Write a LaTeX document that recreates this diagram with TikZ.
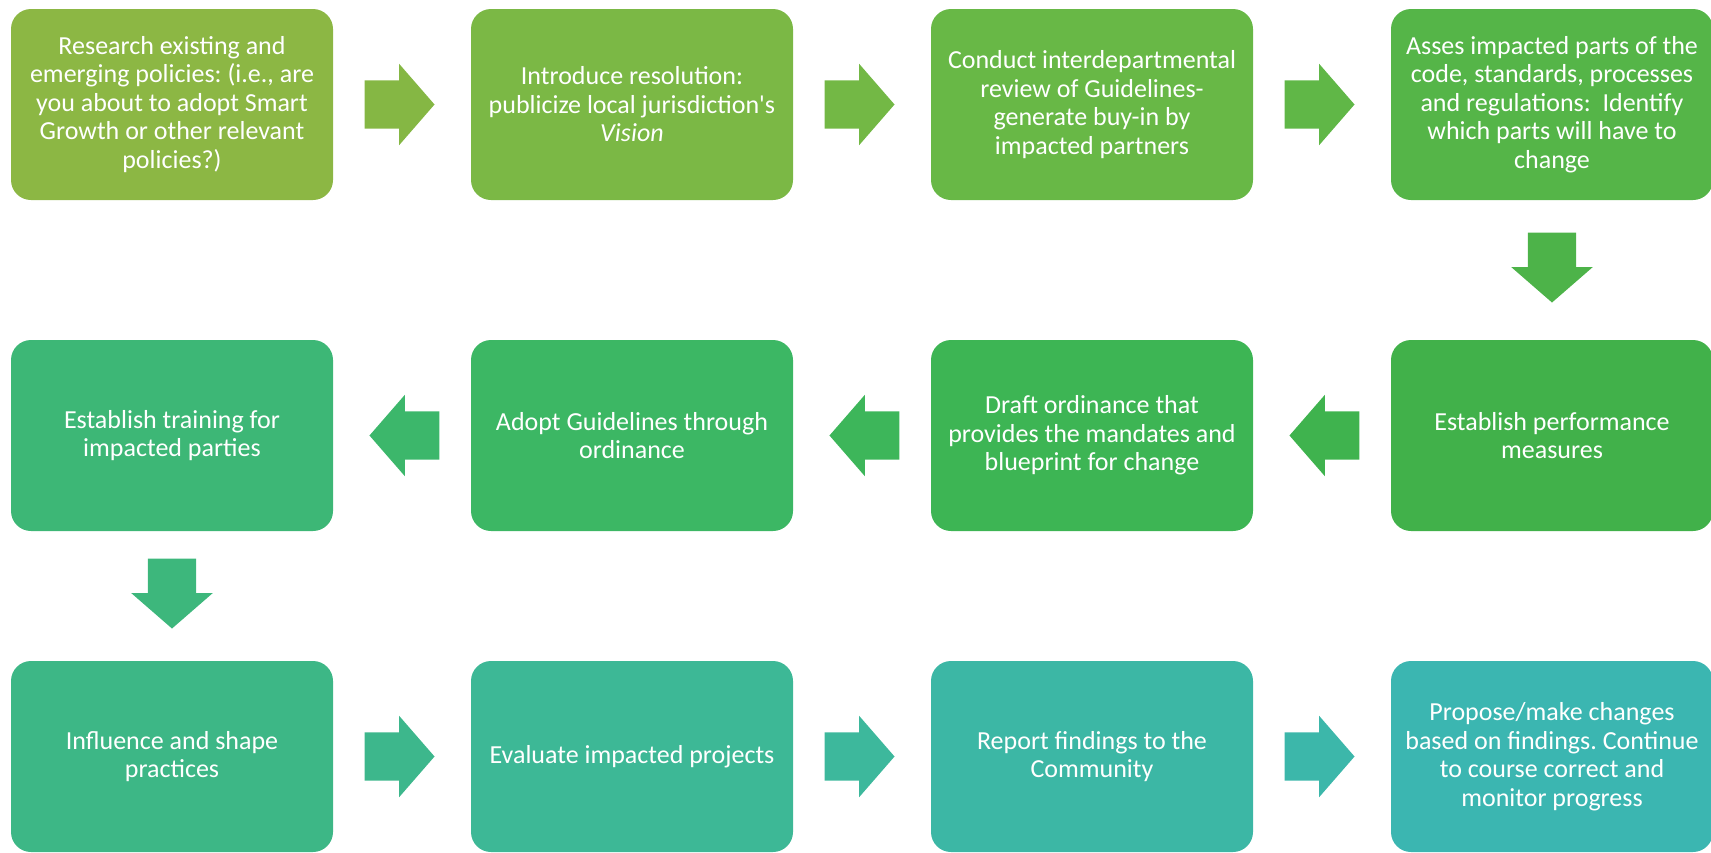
\documentclass[tikz,border=0pt]{standalone}
\usepackage{fontspec}
\setmainfont{Carlito}
\usetikzlibrary{positioning, shapes.arrows}
\frenchspacing

\definecolor{c_1}{HTML}{8CB744}
\definecolor{c_2}{HTML}{7BB845}
\definecolor{c_3}{HTML}{68B846}
\definecolor{c_4}{HTML}{55B548}
\definecolor{c_5}{HTML}{41B14A}
\definecolor{c_6}{HTML}{3DB554}
\definecolor{c_7}{HTML}{3CB764}
\definecolor{c_8}{HTML}{3DB776}
\definecolor{c_9}{HTML}{3DB786}
\definecolor{c_10}{HTML}{3DB896}
\definecolor{c_11}{HTML}{3CB7A5}
\definecolor{c_12}{HTML}{3BB6B1}

\tikzset{
  box/.style={rectangle, rounded corners=20pt, minimum width=322pt,
    minimum height=191pt, inner sep=0pt, text=white, align=center,
    font=\fontsize{26}{28.5}\selectfont},
  blockarrow/.style={single arrow, minimum height=70pt, inner xsep=0pt,
    inner ysep=24pt, single arrow head extend=16.5pt,
    single arrow tip angle=98, xshift=-13pt}
}

\begin{document}
\begin{tikzpicture}[x=1pt, y=-1pt, node distance=460pt, on grid]
  \useasboundingbox (0,0) rectangle (1711,852);

  % first row, left to right
  \node[box, fill=c_1] (s_1) at (172,104.5) {Research existing and\\emerging policies: (i.e., are\\you about to adopt Smart\\Growth or other relevant\\policies?)};
  \node[box, fill=c_2] (s_2) [right=of s_1] {Introduce resolution:\\publicize local jurisdiction\textquotesingle s\\\textit{Vision}};
  \node[box, fill=c_3] (s_3) [right=of s_2] {Conduct interdepartmental\\review of Guidelines-\\generate buy-in by\\impacted partners};
  \node[box, fill=c_4] (s_4) [right=of s_3] {Asses impacted parts of the\\code, standards, processes\\and regulations:~ Identify\\which parts will have to\\change};

  % second row, right to left
  \node[box, fill=c_5] (s_5) [below=331pt of s_4] {Establish performance\\measures};
  \node[box, fill=c_6] (s_6) [left=of s_5] {Draft ordinance that\\provides the mandates and\\blueprint for change};
  \node[box, fill=c_7] (s_7) [left=of s_6] {Adopt Guidelines through\\ordinance};
  \node[box, fill=c_8] (s_8) [left=of s_7] {Establish training for\\impacted parties};

  % third row, left to right
  \node[box, fill=c_9] (s_9) [below=321pt of s_8] {Influence and shape\\practices};
  \node[box, fill=c_10] (s_10) [right=of s_9] {Evaluate impacted projects};
  \node[box, fill=c_11] (s_11) [right=of s_10] {Report findings to the\\Community};
  \node[box, fill=c_12] (s_12) [right=of s_11] {Propose/make changes\\based on findings. Continue\\to course correct and\\monitor progress};

  % block arrows between the steps
  \path (s_1) -- node[blockarrow, fill=c_1!60!c_2] {} (s_2);
  \path (s_2) -- node[blockarrow, fill=c_2!60!c_3] {} (s_3);
  \path (s_3) -- node[blockarrow, fill=c_3!60!c_4] {} (s_4);
  \path (s_4) -- node[rotate=-90, blockarrow, fill=c_4!60!c_5] {} (s_5);
  \path (s_5) -- node[rotate=180, blockarrow, fill=c_5!60!c_6] {} (s_6);
  \path (s_6) -- node[rotate=180, blockarrow, fill=c_6!60!c_7] {} (s_7);
  \path (s_7) -- node[rotate=180, blockarrow, fill=c_7!60!c_8] {} (s_8);
  \path (s_8) -- node[rotate=-90, blockarrow, fill=c_8!60!c_9] {} (s_9);
  \path (s_9) -- node[blockarrow, fill=c_9!60!c_10] {} (s_10);
  \path (s_10) -- node[blockarrow, fill=c_10!60!c_11] {} (s_11);
  \path (s_11) -- node[blockarrow, fill=c_11!60!c_12] {} (s_12);
\end{tikzpicture}
\end{document}
